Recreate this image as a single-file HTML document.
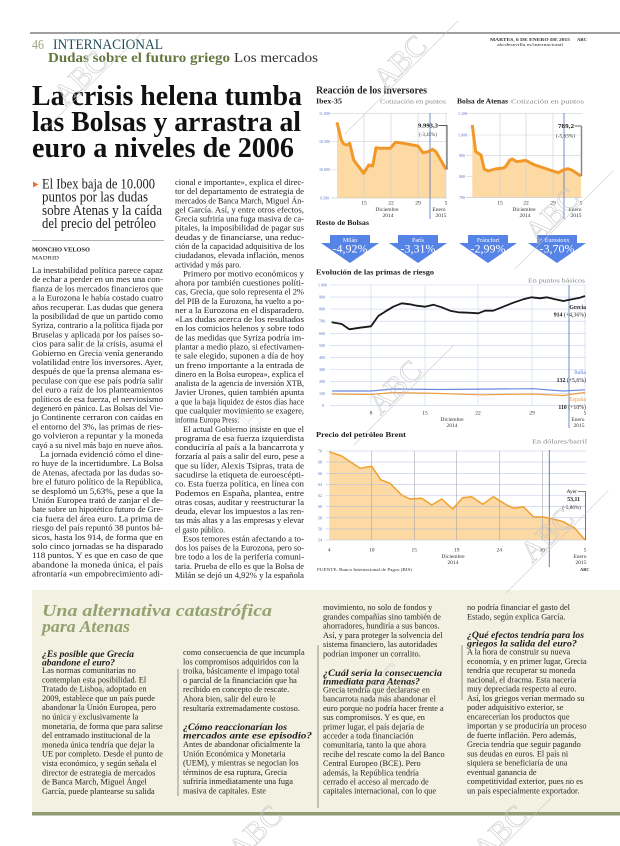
<!DOCTYPE html>
<html><head><meta charset="utf-8"><style>
html,body{margin:0;padding:0;background:#fff;width:620px;height:846px;overflow:hidden}
svg{display:block}
.b{font-size:8.2px;fill:#222}
.x{font-size:8.3px;fill:#262626}
.q{font-size:9.3px;font-weight:bold;font-style:italic;fill:#1e1e1e}
.yl{font-size:4px;fill:#5a74c0}
.xl{font-size:5.5px;fill:#333}
.wm{font-size:30px;fill:none;stroke:#c6c6c6;stroke-width:0.7}
</style></head><body>
<svg width="620" height="846" viewBox="0 0 620 846" font-family="'Liberation Serif', serif" xmlns="http://www.w3.org/2000/svg">
<rect width="620" height="846" fill="#fff"/>

<!-- Header -->
<line x1="30" y1="33" x2="620" y2="33" stroke="#666" stroke-width="1.2"/>
<text x="32" y="49" font-size="14" fill="#9aa77c" textLength="12" lengthAdjust="spacingAndGlyphs">46</text>
<text x="53" y="49" font-size="14.5" fill="#23505e" textLength="110" lengthAdjust="spacingAndGlyphs">INTERNACIONAL</text>
<text x="48" y="62" font-size="14" font-weight="bold" fill="#66773f" textLength="182" lengthAdjust="spacingAndGlyphs">Dudas sobre el futuro griego</text>
<text x="234" y="62" font-size="14" fill="#333" textLength="84" lengthAdjust="spacingAndGlyphs">Los mercados</text>
<text x="490" y="41" font-size="4.6" font-weight="bold" fill="#333" textLength="80" lengthAdjust="spacingAndGlyphs">MARTES, 6 DE ENERO DE 2015</text>
<text x="577" y="41" font-size="4.6" font-weight="bold" fill="#333" textLength="10" lengthAdjust="spacingAndGlyphs">ABC</text>
<text x="497" y="45.8" font-size="4.4" fill="#333" textLength="66" lengthAdjust="spacingAndGlyphs">abcdesevilla.es/internacional</text>

<!-- Headline -->
<text x="32" y="105" font-size="28" font-weight="bold" fill="#111" textLength="270" lengthAdjust="spacingAndGlyphs">La crisis helena tumba</text>
<text x="32" y="131" font-size="28" font-weight="bold" fill="#111" textLength="269" lengthAdjust="spacingAndGlyphs">las Bolsas y arrastra al</text>
<text x="32" y="157" font-size="28" font-weight="bold" fill="#111" textLength="262" lengthAdjust="spacingAndGlyphs">euro a niveles de 2006</text>

<!-- Subhead -->
<polygon points="33,181.5 38.5,184.5 33,187.5" fill="#e8772e"/>
<text x="42" y="188.5" font-size="14.5" fill="#222" textLength="113" lengthAdjust="spacingAndGlyphs">El Ibex baja de 10.000</text>
<text x="42" y="201.7" font-size="14.5" fill="#222" textLength="106" lengthAdjust="spacingAndGlyphs">puntos por las dudas</text>
<text x="42" y="214.9" font-size="14.5" fill="#222" textLength="120" lengthAdjust="spacingAndGlyphs">sobre Atenas y la caída</text>
<text x="42" y="228.1" font-size="14.5" fill="#222" textLength="114" lengthAdjust="spacingAndGlyphs">del precio del petróleo</text>
<line x1="32" y1="240.5" x2="164" y2="240.5" stroke="#999" stroke-width="0.7"/>
<text x="32" y="251.5" font-size="6.2" font-weight="bold" fill="#222" textLength="58" lengthAdjust="spacingAndGlyphs">MONCHO VELOSO</text>
<text x="32" y="259.5" font-size="5.5" fill="#222" textLength="27" lengthAdjust="spacingAndGlyphs">MADRID</text>

<!-- Column 1 -->
<g class="b" lengthAdjust="spacingAndGlyphs">
<text x="32" y="273" textLength="131" lengthAdjust="spacingAndGlyphs">La inestabilidad política parece capaz</text>
<text x="32" y="282.2" textLength="131" lengthAdjust="spacingAndGlyphs">de echar a perder en un mes una con-</text>
<text x="32" y="291.4" textLength="131" lengthAdjust="spacingAndGlyphs">fianza de los mercados financieros que</text>
<text x="32" y="300.6" textLength="131" lengthAdjust="spacingAndGlyphs">a la Eurozona le había costado cuatro</text>
<text x="32" y="309.8" textLength="131" lengthAdjust="spacingAndGlyphs">años recuperar. Las dudas que genera</text>
<text x="32" y="319" textLength="131" lengthAdjust="spacingAndGlyphs">la posibilidad de que un partido como</text>
<text x="32" y="328.2" textLength="131" lengthAdjust="spacingAndGlyphs">Syriza, contrario a la política fijada por</text>
<text x="32" y="337.4" textLength="131" lengthAdjust="spacingAndGlyphs">Bruselas y aplicada por los países so-</text>
<text x="32" y="346.6" textLength="131" lengthAdjust="spacingAndGlyphs">cios para salir de la crisis, asuma el</text>
<text x="32" y="355.8" textLength="131" lengthAdjust="spacingAndGlyphs">Gobierno en Grecia venía generando</text>
<text x="32" y="365" textLength="131" lengthAdjust="spacingAndGlyphs">volatilidad entre los inversores. Ayer,</text>
<text x="32" y="374.2" textLength="131" lengthAdjust="spacingAndGlyphs">después de que la prensa alemana es-</text>
<text x="32" y="383.4" textLength="131" lengthAdjust="spacingAndGlyphs">peculase con que ese país podría salir</text>
<text x="32" y="392.6" textLength="131" lengthAdjust="spacingAndGlyphs">del euro a raíz de los planteamientos</text>
<text x="32" y="401.8" textLength="131" lengthAdjust="spacingAndGlyphs">políticos de esa fuerza, el nerviosismo</text>
<text x="32" y="411" textLength="131" lengthAdjust="spacingAndGlyphs">degeneró en pánico. Las Bolsas del Vie-</text>
<text x="32" y="420.2" textLength="131" lengthAdjust="spacingAndGlyphs">jo Continente cerraron con caídas en</text>
<text x="32" y="429.4" textLength="131" lengthAdjust="spacingAndGlyphs">el entorno del 3%, las primas de ries-</text>
<text x="32" y="438.6" textLength="131" lengthAdjust="spacingAndGlyphs">go volvieron a repuntar y la moneda</text>
<text x="32" y="447.8" textLength="131" lengthAdjust="spacingAndGlyphs">cayó a su nivel más bajo en nueve años.</text>
<text x="40" y="457" textLength="123" lengthAdjust="spacingAndGlyphs">La jornada evidenció cómo el dine-</text>
<text x="32" y="466.2" textLength="131" lengthAdjust="spacingAndGlyphs">ro huye de la incertidumbre. La Bolsa</text>
<text x="32" y="475.4" textLength="131" lengthAdjust="spacingAndGlyphs">de Atenas, afectada por las dudas so-</text>
<text x="32" y="484.6" textLength="131" lengthAdjust="spacingAndGlyphs">bre el futuro político de la República,</text>
<text x="32" y="493.8" textLength="131" lengthAdjust="spacingAndGlyphs">se desplomó un 5,63%, pese a que la</text>
<text x="32" y="503" textLength="131" lengthAdjust="spacingAndGlyphs">Unión Europea trató de zanjar el de-</text>
<text x="32" y="512.2" textLength="131" lengthAdjust="spacingAndGlyphs">bate sobre un hipotético futuro de Gre-</text>
<text x="32" y="521.4" textLength="131" lengthAdjust="spacingAndGlyphs">cia fuera del área euro. La prima de</text>
<text x="32" y="530.6" textLength="131" lengthAdjust="spacingAndGlyphs">riesgo del país repuntó 38 puntos bá-</text>
<text x="32" y="539.8" textLength="131" lengthAdjust="spacingAndGlyphs">sicos, hasta los 914, de forma que en</text>
<text x="32" y="549" textLength="131" lengthAdjust="spacingAndGlyphs">solo cinco jornadas se ha disparado</text>
<text x="32" y="558.2" textLength="131" lengthAdjust="spacingAndGlyphs">118 puntos. Y es que en caso de que</text>
<text x="32" y="567.4" textLength="131" lengthAdjust="spacingAndGlyphs">abandone la moneda única, el país</text>
<text x="32" y="576.6" textLength="131" lengthAdjust="spacingAndGlyphs">afrontaría «un empobrecimiento adi-</text>
</g>

<!-- Column 2 -->
<g class="b">
<text x="175" y="185" textLength="129" lengthAdjust="spacingAndGlyphs">cional e importante», explica el direc-</text>
<text x="175" y="194.1" textLength="129" lengthAdjust="spacingAndGlyphs">tor del departamento de estrategia de</text>
<text x="175" y="203.3" textLength="129" lengthAdjust="spacingAndGlyphs">mercados de Banca March, Miguel Án-</text>
<text x="175" y="212.4" textLength="129" lengthAdjust="spacingAndGlyphs">gel García. Así, y entre otros efectos,</text>
<text x="175" y="221.6" textLength="129" lengthAdjust="spacingAndGlyphs">Grecia sufriría una fuga masiva de ca-</text>
<text x="175" y="230.7" textLength="129" lengthAdjust="spacingAndGlyphs">pitales, la imposibilidad de pagar sus</text>
<text x="175" y="239.8" textLength="129" lengthAdjust="spacingAndGlyphs">deudas y de financiarse, una reduc-</text>
<text x="175" y="249" textLength="129" lengthAdjust="spacingAndGlyphs">ción de la capacidad adquisitiva de los</text>
<text x="175" y="258.1" textLength="129" lengthAdjust="spacingAndGlyphs">ciudadanos, elevada inflación, menos</text>
<text x="175" y="267.3" textLength="66" lengthAdjust="spacingAndGlyphs">actividad y más paro.</text>
<text x="183" y="276.4" textLength="121" lengthAdjust="spacingAndGlyphs">Primero por motivo económicos y</text>
<text x="175" y="285.5" textLength="129" lengthAdjust="spacingAndGlyphs">ahora por también cuestiones políti-</text>
<text x="175" y="294.7" textLength="129" lengthAdjust="spacingAndGlyphs">cas, Grecia, que solo representa el 2%</text>
<text x="175" y="303.8" textLength="129" lengthAdjust="spacingAndGlyphs">del PIB de la Eurozona, ha vuelto a po-</text>
<text x="175" y="313" textLength="129" lengthAdjust="spacingAndGlyphs">ner a la Eurozona en el disparadero.</text>
<text x="175" y="322.1" textLength="129" lengthAdjust="spacingAndGlyphs">«Las dudas acerca de los resultados</text>
<text x="175" y="331.2" textLength="129" lengthAdjust="spacingAndGlyphs">en los comicios helenos y sobre todo</text>
<text x="175" y="340.4" textLength="129" lengthAdjust="spacingAndGlyphs">de las medidas que Syriza podría im-</text>
<text x="175" y="349.5" textLength="129" lengthAdjust="spacingAndGlyphs">plantar a medio plazo, si efectivamen-</text>
<text x="175" y="358.7" textLength="129" lengthAdjust="spacingAndGlyphs">te sale elegido, suponen a día de hoy</text>
<text x="175" y="367.8" textLength="129" lengthAdjust="spacingAndGlyphs">un freno importante a la entrada de</text>
<text x="175" y="376.9" textLength="129" lengthAdjust="spacingAndGlyphs">dinero en la Bolsa europea», explica el</text>
<text x="175" y="386.1" textLength="129" lengthAdjust="spacingAndGlyphs">analista de la agencia de inversión XTB,</text>
<text x="175" y="395.2" textLength="129" lengthAdjust="spacingAndGlyphs">Javier Urones, quien también apunta</text>
<text x="175" y="404.4" textLength="129" lengthAdjust="spacingAndGlyphs">a que la baja liquidez de estos días hace</text>
<text x="175" y="413.5" textLength="129" lengthAdjust="spacingAndGlyphs">que cualquier movimiento se exagere,</text>
<text x="175" y="422.6" textLength="64" lengthAdjust="spacingAndGlyphs">informa Europa Press.</text>
<text x="183" y="431.8" textLength="121" lengthAdjust="spacingAndGlyphs">El actual Gobierno insiste en que el</text>
<text x="175" y="440.9" textLength="129" lengthAdjust="spacingAndGlyphs">programa de esa fuerza izquierdista</text>
<text x="175" y="450.1" textLength="129" lengthAdjust="spacingAndGlyphs">conduciría al país a la bancarrota y</text>
<text x="175" y="459.2" textLength="129" lengthAdjust="spacingAndGlyphs">forzaría al país a salir del euro, pese a</text>
<text x="175" y="468.3" textLength="129" lengthAdjust="spacingAndGlyphs">que su líder, Alexis Tsipras, trata de</text>
<text x="175" y="477.5" textLength="129" lengthAdjust="spacingAndGlyphs">sacudirse la etiqueta de euroescépti-</text>
<text x="175" y="486.6" textLength="129" lengthAdjust="spacingAndGlyphs">co. Esta fuerza política, en línea con</text>
<text x="175" y="495.8" textLength="129" lengthAdjust="spacingAndGlyphs">Podemos en España, plantea, entre</text>
<text x="175" y="504.9" textLength="129" lengthAdjust="spacingAndGlyphs">otras cosas, auditar y reestructurar la</text>
<text x="175" y="514" textLength="129" lengthAdjust="spacingAndGlyphs">deuda, elevar los impuestos a las ren-</text>
<text x="175" y="523.2" textLength="129" lengthAdjust="spacingAndGlyphs">tas más altas y a las empresas y elevar</text>
<text x="175" y="532.3" textLength="50" lengthAdjust="spacingAndGlyphs">el gasto público.</text>
<text x="183" y="541.5" textLength="121" lengthAdjust="spacingAndGlyphs">Esos temores están afectando a to-</text>
<text x="175" y="550.6" textLength="129" lengthAdjust="spacingAndGlyphs">dos los países de la Eurozona, pero so-</text>
<text x="175" y="559.7" textLength="129" lengthAdjust="spacingAndGlyphs">bre todo a los de la periferia comuni-</text>
<text x="175" y="568.9" textLength="129" lengthAdjust="spacingAndGlyphs">taria. Prueba de ello es que la Bolsa de</text>
<text x="175" y="578" textLength="129" lengthAdjust="spacingAndGlyphs">Milán se dejó un 4,92% y la española</text>
</g>

<!-- Reacción de los inversores -->
<text x="316" y="93.5" font-size="10.5" font-weight="bold" fill="#222" textLength="111" lengthAdjust="spacingAndGlyphs">Reacción de los inversores</text>
<text x="316" y="103.5" font-size="7.5" font-weight="bold" fill="#222" textLength="26" lengthAdjust="spacingAndGlyphs">Ibex-35</text>
<text x="380" y="103.5" font-size="6.5" fill="#888" textLength="66" lengthAdjust="spacingAndGlyphs">Cotización en puntos</text>
<text x="457" y="103.5" font-size="7.5" font-weight="bold" fill="#222" textLength="51" lengthAdjust="spacingAndGlyphs">Bolsa de Atenas</text>
<text x="511" y="103.5" font-size="6.5" fill="#888" textLength="73" lengthAdjust="spacingAndGlyphs">Cotización en puntos</text>

<!-- Ibex chart -->
<g stroke="#d2d2d2" stroke-width="0.6">
<line x1="331" y1="113.3" x2="447" y2="113.3"/>
<line x1="331" y1="141.7" x2="447" y2="141.7"/>
<line x1="331" y1="169.5" x2="447" y2="169.5"/>
</g>
<polygon points="337,198 337,122.3 341.3,140 343.7,144 347,145 349.7,143.3 353.7,160 363.7,173.3 368.7,165 372.7,166 376,147.7 380.3,148.3 390.3,148.3 395.3,142.3 400.3,142.7 418,146 423,152.7 427,152 432.7,149.3 436,151.7 446,169.3 446,198" fill="#fdd9a3"/>
<g stroke="#c8cde0" stroke-width="0.6">
<line x1="364" y1="113" x2="364" y2="198"/>
<line x1="391" y1="113" x2="391" y2="198"/>
<line x1="418" y1="113" x2="418" y2="198"/>
<line x1="446" y1="113" x2="446" y2="198"/>
</g>
<line x1="331" y1="198" x2="447" y2="198" stroke="#bbb" stroke-width="0.6"/>
<line x1="430" y1="113" x2="430" y2="219" stroke="#5570c0" stroke-width="0.8"/>
<polyline points="337,122.3 341.3,140 343.7,144 347,145 349.7,143.3 353.7,160 363.7,173.3 368.7,165 372.7,166 376,147.7 380.3,148.3 390.3,148.3 395.3,142.3 400.3,142.7 418,146 423,152.7 427,152 432.7,149.3 436,151.7 446,169.3" fill="none" stroke="#f0992a" stroke-width="3" stroke-linejoin="round"/>
<text class="yl" x="319" y="114.8">11.000</text>
<text class="yl" x="319" y="143.2">10.500</text>
<text class="yl" x="319" y="171">10.000</text>
<text class="yl" x="320" y="199.5">9.500</text>
<g class="xl" text-anchor="middle">
<text x="364" y="204.5">15</text><text x="391" y="204.5">22</text><text x="418" y="204.5">29</text><text x="446" y="204.5">5</text>
<text x="387" y="211">Diciembre</text><text x="388" y="217">2014</text>
<text x="439" y="211">Enero</text><text x="441" y="217">2015</text>
</g>
<text x="418" y="127.5" font-size="6" font-weight="bold" fill="#222" textLength="20" lengthAdjust="spacingAndGlyphs">9.993,3</text>
<polyline points="438.5,125.5 447,125.5 447,169.5" fill="none" stroke="#222" stroke-width="0.8"/>
<text x="419" y="136" font-size="5" fill="#333" textLength="18" lengthAdjust="spacingAndGlyphs">(-3,45%)</text>

<!-- Athens chart -->
<g stroke="#d2d2d2" stroke-width="0.6">
<line x1="466" y1="113.3" x2="582" y2="113.3"/>
<line x1="466" y1="135" x2="582" y2="135"/>
<line x1="466" y1="155.7" x2="582" y2="155.7"/>
<line x1="466" y1="176.7" x2="582" y2="176.7"/>
</g>
<polygon points="472.3,197.3 472.3,125 475.7,151.7 478.3,153.3 481,155 484.3,169.3 488.3,171 495,169 501.7,168.3 505,167.3 510,160 512.3,159 516.7,161.7 521.7,161 525.7,160.3 530,162.7 535,165 555,171.7 558.3,172.7 563.3,170 567.7,168.7 571.7,170 581,176 581,197.3" fill="#fdd9a3"/>
<g stroke="#c8cde0" stroke-width="0.6">
<line x1="500" y1="113" x2="500" y2="197"/>
<line x1="526" y1="113" x2="526" y2="197"/>
<line x1="553" y1="113" x2="553" y2="197"/>
</g>
<line x1="466" y1="197.3" x2="582" y2="197.3" stroke="#bbb" stroke-width="0.6"/>
<line x1="564" y1="113" x2="564" y2="219" stroke="#5570c0" stroke-width="0.8"/>
<polyline points="472.3,125 475.7,151.7 478.3,153.3 481,155 484.3,169.3 488.3,171 495,169 501.7,168.3 505,167.3 510,160 512.3,159 516.7,161.7 521.7,161 525.7,160.3 530,162.7 535,165 555,171.7 558.3,172.7 563.3,170 567.7,168.7 571.7,170 581,176" fill="none" stroke="#f0992a" stroke-width="3" stroke-linejoin="round"/>
<text class="yl" x="458" y="114.8">1.100</text>
<text class="yl" x="458" y="136.5">1.000</text>
<text class="yl" x="459" y="157.2">900</text>
<text class="yl" x="459" y="178.2">800</text>
<text class="yl" x="459" y="198.8">700</text>
<g class="xl" text-anchor="middle">
<text x="500" y="204.5">15</text><text x="526" y="204.5">22</text><text x="553" y="204.5">29</text><text x="581" y="204.5">5</text>
<text x="524" y="211">Diciembre</text><text x="525" y="217">2014</text>
<text x="575" y="211">Enero</text><text x="576" y="217">2015</text>
</g>
<text x="558" y="128" font-size="6" font-weight="bold" fill="#222" textLength="16" lengthAdjust="spacingAndGlyphs">789,2</text>
<line x1="574.5" y1="126" x2="581.5" y2="126" stroke="#444" stroke-width="0.8"/>
<line x1="581.5" y1="126" x2="581.5" y2="176" stroke="#888" stroke-width="1.5"/>
<text x="556" y="137.5" font-size="5" fill="#333" textLength="19" lengthAdjust="spacingAndGlyphs">(-5,63%)</text>

<!-- Resto de Bolsas -->
<text x="316" y="225" font-size="7.5" font-weight="bold" fill="#222" textLength="53" lengthAdjust="spacingAndGlyphs">Resto de Bolsas</text>
<g fill="#5583e6">
<path d="M330,235 H370 V243 H379 L350,263 L321,243 H330 Z"/>
<path d="M398,235 H438 V243 H447 L418,263 L389,243 H398 Z"/>
<path d="M468,235 H508 V243 H517 L488,263 L459,243 H468 Z"/>
<path d="M537,235 H577 V243 H586 L557,263 L528,243 H537 Z"/>
</g>
<g fill="#fff" text-anchor="middle">
<text x="350" y="242" font-size="6">Milán</text>
<text x="350" y="252.5" font-size="11.5" textLength="35" lengthAdjust="spacingAndGlyphs">-4,92%</text>
<text x="418" y="242" font-size="6">París</text>
<text x="418" y="252.5" font-size="11.5" textLength="35" lengthAdjust="spacingAndGlyphs">-3,31%</text>
<text x="488" y="242" font-size="6">Fráncfort</text>
<text x="488" y="252.5" font-size="11.5" textLength="35" lengthAdjust="spacingAndGlyphs">-2,99%</text>
<text x="557" y="242" font-size="6">Eurostoxx</text>
<text x="557" y="252.5" font-size="11.5" textLength="35" lengthAdjust="spacingAndGlyphs">-3,70%</text>
</g>

<!-- Primas de riesgo -->
<text x="316" y="274.5" font-size="7.5" font-weight="bold" fill="#222" textLength="118" lengthAdjust="spacingAndGlyphs">Evolución de las primas de riesgo</text>
<text x="528" y="282.5" font-size="6.5" fill="#888" textLength="57" lengthAdjust="spacingAndGlyphs">En puntos básicos</text>
<g stroke="#c8d2ee" stroke-width="0.6">
<line x1="330" y1="285" x2="586" y2="285"/>
<line x1="330" y1="297.1" x2="586" y2="297.1"/>
<line x1="330" y1="309.1" x2="586" y2="309.1"/>
<line x1="330" y1="321.2" x2="586" y2="321.2"/>
<line x1="330" y1="333.3" x2="586" y2="333.3"/>
<line x1="330" y1="345.4" x2="586" y2="345.4"/>
<line x1="330" y1="357.4" x2="586" y2="357.4"/>
<line x1="330" y1="369.5" x2="586" y2="369.5"/>
<line x1="330" y1="381.6" x2="586" y2="381.6"/>
<line x1="330" y1="393.6" x2="586" y2="393.6"/>
<line x1="330" y1="405.7" x2="586" y2="405.7"/>
<line x1="371" y1="285" x2="371" y2="406"/>
<line x1="425" y1="285" x2="425" y2="406"/>
<line x1="478" y1="285" x2="478" y2="406"/>
<line x1="532" y1="285" x2="532" y2="406"/>
<line x1="585" y1="285" x2="585" y2="406"/>
</g>
<line x1="569" y1="285" x2="569" y2="428" stroke="#5570c0" stroke-width="0.8"/>
<g class="yl">
<text x="318" y="286.5">1.000</text><text x="319" y="298.6">900</text><text x="319" y="310.6">800</text>
<text x="319" y="322.7">700</text><text x="319" y="334.8">600</text><text x="319" y="346.9">500</text>
<text x="319" y="358.9">400</text><text x="319" y="371">300</text><text x="319" y="383.1">200</text>
<text x="319" y="395.1">100</text><text x="322" y="407.2">0</text>
</g>
<polyline points="332,394 371,394.5 393,392.5 440,393.5 480,394.8 533,394 563,395.5 585,392.5" fill="none" stroke="#f0a040" stroke-width="1.2"/>
<polyline points="332,391 371,391 393,389 440,389.5 533,388.7 563,391 585,389.8" fill="none" stroke="#6a8ae0" stroke-width="1.2"/>
<polyline points="331.7,322.3 341.7,324 349.3,329.3 360,327.7 371,326.3 378.3,316 385,311.7 393.3,306.7 401.7,303.3 410,304.3 416.7,305.7 425,306.7 433.3,304.7 441.7,307.3 450,310.7 458.3,312.3 468.3,312.7 478.3,313.3 485,310.7 493.3,310.7 503.3,306.7 513.3,302.7 523.3,299.3 531.7,297.3 540,298.3 546.7,297.3 555,299.3 563.3,301 573.3,299 580,297.7 585,296" fill="none" stroke="#1a1a1a" stroke-width="1.8" stroke-linejoin="round"/>
<g class="xl" text-anchor="middle">
<text x="371" y="414.5">8</text><text x="425" y="414.5">15</text><text x="478" y="414.5">22</text><text x="532" y="414.5">29</text><text x="585" y="414.5">5</text>
<text x="452" y="421">Diciembre</text><text x="452" y="427">2014</text>
<text x="578" y="421">Enero</text><text x="579" y="427">2015</text>
</g>
<g font-size="5.8" text-anchor="end">
<text x="586" y="309" font-weight="bold" fill="#222">Grecia</text>
<text x="586" y="316.5" fill="#222"><tspan font-weight="bold">914</tspan> (+4,36%)</text>
<text x="586" y="374" fill="#6a8ae0">Italia</text>
<text x="586" y="382" fill="#222"><tspan font-weight="bold">132</tspan> (+5,6%)</text>
<text x="586" y="401" fill="#f0a040">España</text>
<text x="586" y="409" fill="#222"><tspan font-weight="bold">110</tspan> (+10%)</text>
</g>

<!-- Brent -->
<text x="316" y="437" font-size="7.5" font-weight="bold" fill="#222" textLength="90" lengthAdjust="spacingAndGlyphs">Precio del petróleo Brent</text>
<text x="532" y="443.5" font-size="6.5" fill="#888" textLength="55" lengthAdjust="spacingAndGlyphs">En dólares/barril</text>
<polygon points="329.3,540 329.3,451.7 341.7,456 351.7,462.7 360,468.3 368.3,466.7 371.7,466.3 381,480 390,483.3 401.7,495 410,499 421.7,498.3 431.7,505 441.7,499 452.7,509 462.7,497.7 471.7,496.7 482.7,504.3 493.3,496.7 506.7,505 514,508.3 523.3,506.7 533.3,516.7 543.3,517 553.3,519 563.3,521.7 575,528.3 585,540" fill="#fdd9a3"/>
<g stroke="#a9b8e6" stroke-width="0.6" opacity="0.8">
<line x1="326" y1="451" x2="586" y2="451"/>
<line x1="326" y1="462.1" x2="586" y2="462.1"/>
<line x1="326" y1="473.3" x2="586" y2="473.3"/>
<line x1="326" y1="484.4" x2="586" y2="484.4"/>
<line x1="326" y1="495.5" x2="586" y2="495.5"/>
<line x1="326" y1="506.6" x2="586" y2="506.6"/>
<line x1="326" y1="517.8" x2="586" y2="517.8"/>
<line x1="326" y1="528.9" x2="586" y2="528.9"/>
<line x1="326" y1="540" x2="586" y2="540"/>
</g>
<g stroke="#aaa" stroke-width="0.6">
<line x1="371.7" y1="451" x2="371.7" y2="540"/>
<line x1="414.3" y1="451" x2="414.3" y2="540"/>
<line x1="456.7" y1="451" x2="456.7" y2="540"/>
<line x1="499.3" y1="451" x2="499.3" y2="540"/>
<line x1="542.3" y1="451" x2="542.3" y2="540"/>
</g>
<line x1="549.3" y1="450" x2="549.3" y2="567" stroke="#5570c0" stroke-width="0.9"/>
<polyline points="329.3,451.7 341.7,456 351.7,462.7 360,468.3 368.3,466.7 371.7,466.3 381,480 390,483.3 401.7,495 410,499 421.7,498.3 431.7,505 441.7,499 452.7,509 462.7,497.7 471.7,496.7 482.7,504.3 493.3,496.7 506.7,505 514,508.3 523.3,506.7 533.3,516.7 543.3,517 553.3,519 563.3,521.7 575,528.3 585,540" fill="none" stroke="#f0a030" stroke-width="1.5" stroke-linejoin="round"/>
<g class="yl">
<text x="318" y="452.5">70</text><text x="318" y="463.6">68</text><text x="318" y="474.8">66</text>
<text x="318" y="485.9">64</text><text x="318" y="497">62</text><text x="318" y="508.1">60</text>
<text x="318" y="519.3">58</text><text x="318" y="530.4">56</text><text x="318" y="541.5">54</text>
</g>
<g class="xl" text-anchor="middle">
<text x="329.3" y="551.5">4</text><text x="371.7" y="551.5">10</text><text x="414.3" y="551.5">15</text><text x="456.7" y="551.5">19</text>
<text x="499.3" y="551.5">24</text><text x="542.3" y="551.5">30</text><text x="585" y="551.5">5</text>
<text x="453" y="558">Diciembre</text><text x="453" y="564">2014</text>
<text x="580" y="558">Enero</text><text x="581" y="564">2015</text>
</g>
<text x="577" y="493" font-size="5.5" fill="#222" text-anchor="end">Ayer</text>
<polyline points="578,491.5 585.5,491.5 585.5,540" fill="none" stroke="#555" stroke-width="0.8"/>
<text x="580" y="501" font-size="5.8" font-weight="bold" fill="#222" text-anchor="end">53,11</text>
<text x="581" y="509" font-size="5.2" fill="#222" text-anchor="end">(-5,86%)</text>
<text x="317" y="571" font-size="4.5" fill="#333" textLength="95" lengthAdjust="spacingAndGlyphs">FUENTE: Banco Internacional de Pagos (BIS)</text>
<text x="580" y="571" font-size="4.5" font-weight="bold" fill="#333">ABC</text>

<!-- Bottom box -->
<rect x="32" y="590" width="588" height="222" fill="#f3f1e1"/>
<rect x="32" y="812" width="588" height="3.5" fill="#8f9c74"/>
<text x="42" y="616" font-size="17" font-weight="bold" font-style="italic" fill="#94a271" textLength="230" lengthAdjust="spacingAndGlyphs">Una alternativa catastrófica</text>
<text x="42" y="632" font-size="17" font-weight="bold" font-style="italic" fill="#94a271" textLength="88" lengthAdjust="spacingAndGlyphs">para Atenas</text>
<g stroke="#555" stroke-width="0.6">
<line x1="178" y1="669" x2="178" y2="796"/>
<line x1="318" y1="645" x2="318" y2="808"/>
<line x1="462" y1="645" x2="462" y2="700"/>
</g>

<!-- Col A -->
<text class="q" x="42" y="657" textLength="92" lengthAdjust="spacingAndGlyphs">¿Es posible que Grecia</text>
<text class="q" x="42" y="665.5" textLength="73" lengthAdjust="spacingAndGlyphs">abandone el euro?</text>
<g class="x">
<text x="42" y="673">Las normas comunitarias no</text>
<text x="42" y="682.3">contemplan esta posibilidad. El</text>
<text x="42" y="691.6">Tratado de Lisboa, adoptado en</text>
<text x="42" y="700.9">2009, establece que un país puede</text>
<text x="42" y="710.2">abandonar la Unión Europea, pero</text>
<text x="42" y="719.5">no única y exclusivamente la</text>
<text x="42" y="728.8">monetaria, de forma que para salirse</text>
<text x="42" y="738.1">del entramado institucional de la</text>
<text x="42" y="747.4">moneda única tendría que dejar la</text>
<text x="42" y="756.7">UE por completo. Desde el punto de</text>
<text x="42" y="766">vista económico, y según señala el</text>
<text x="42" y="775.3">director de estrategia de mercados</text>
<text x="42" y="784.6">de Banca March, Miguel Ángel</text>
<text x="42" y="793.9">García, puede plantearse su salida</text>
</g>

<!-- Col B -->
<g class="x">
<text x="183" y="655">como consecuencia de que incumpla</text>
<text x="183" y="664.3">los compromisos adquiridos con la</text>
<text x="183" y="673.6">troika, básicamente el impago total</text>
<text x="183" y="682.9">o parcial de la financiación que ha</text>
<text x="183" y="692.2">recibido en concepto de rescate.</text>
<text x="183" y="701.5">Ahora bien, salir del euro le</text>
<text x="183" y="710.8">resultaría extremadamente costoso.</text>
</g>
<text class="q" x="183" y="730" textLength="104" lengthAdjust="spacingAndGlyphs">¿Cómo reaccionarían los</text>
<text class="q" x="183" y="738.5" textLength="129" lengthAdjust="spacingAndGlyphs">mercados ante ese episodio?</text>
<g class="x">
<text x="183" y="747">Antes de abandonar oficialmente la</text>
<text x="183" y="756.3">Unión Económica y Monetaria</text>
<text x="183" y="765.6">(UEM), y mientras se negocian los</text>
<text x="183" y="774.9">términos de esa ruptura, Grecia</text>
<text x="183" y="784.2">sufriría inmediatamente una fuga</text>
<text x="183" y="793.5">masiva de capitales. Este</text>
</g>

<!-- Col C -->
<g class="x">
<text x="323" y="610">movimiento, no solo de fondos y</text>
<text x="323" y="619.3">grandes compañías sino también de</text>
<text x="323" y="628.6">ahorradores, hundiría a sus bancos.</text>
<text x="323" y="637.9">Así, y para proteger la solvencia del</text>
<text x="323" y="647.2">sistema financiero, las autoridades</text>
<text x="323" y="656.5">podrían imponer un corralito.</text>
</g>
<text class="q" x="323" y="676" textLength="119" lengthAdjust="spacingAndGlyphs">¿Cuál sería la consecuencia</text>
<text class="q" x="323" y="684.5" textLength="97" lengthAdjust="spacingAndGlyphs">inmediata para Atenas?</text>
<g class="x">
<text x="323" y="692.5">Grecia tendría que declararse en</text>
<text x="323" y="701.7">bancarrota nada más abandonar el</text>
<text x="323" y="710.9">euro porque no podría hacer frente a</text>
<text x="323" y="720.1">sus compromisos. Y es que, en</text>
<text x="323" y="729.3">primer lugar, el país dejaría de</text>
<text x="323" y="738.5">acceder a toda financiación</text>
<text x="323" y="747.7">comunitaria, tanto la que ahora</text>
<text x="323" y="756.9">recibe del rescate como la del Banco</text>
<text x="323" y="766.1">Central Europeo (BCE). Pero</text>
<text x="323" y="775.3">además, la República tendría</text>
<text x="323" y="784.5">cerrado el acceso al mercado de</text>
<text x="323" y="793.7">capitales internacional, con lo que</text>
</g>

<!-- Col D -->
<g class="x">
<text x="467" y="610">no podría financiar el gasto del</text>
<text x="467" y="619.3">Estado, según explica García.</text>
</g>
<text class="q" x="467" y="638" textLength="117" lengthAdjust="spacingAndGlyphs">¿Qué efectos tendría para los</text>
<text class="q" x="467" y="646.5" textLength="110" lengthAdjust="spacingAndGlyphs">griegos la salida del euro?</text>
<g class="x">
<text x="467" y="654.5">A la hora de construir su nueva</text>
<text x="467" y="663.8">economía, y en primer lugar, Grecia</text>
<text x="467" y="673">tendría que recuperar su moneda</text>
<text x="467" y="682.3">nacional, el dracma. Esta nacería</text>
<text x="467" y="691.5">muy depreciada respecto al euro.</text>
<text x="467" y="700.8">Así, los griegos verían mermado su</text>
<text x="467" y="710.1">poder adquisitivo exterior, se</text>
<text x="467" y="719.3">encarecerían los productos que</text>
<text x="467" y="728.6">importan y se produciría un proceso</text>
<text x="467" y="737.8">de fuerte inflación. Pero además,</text>
<text x="467" y="747.1">Grecia tendría que seguir pagando</text>
<text x="467" y="756.4">sus deudas en euros. El país ni</text>
<text x="467" y="765.6">siquiera se beneficiaría de una</text>
<text x="467" y="774.9">eventual ganancia de</text>
<text x="467" y="784.1">competitividad exterior, pues no es</text>
<text x="467" y="793.4">un país especialmente exportador.</text>
</g>

<!-- Watermarks -->
<g opacity="0.85">
<g transform="translate(80,78) rotate(-45)"><text class="wm" x="0" y="10" text-anchor="middle">ABC</text><line x1="-60" y1="12" x2="75" y2="12" stroke="#c4c4c4" stroke-width="0.6"/></g>
<g transform="translate(400,62) rotate(-45)"><text class="wm" x="0" y="10" text-anchor="middle">ABC</text><line x1="-90" y1="12" x2="70" y2="12" stroke="#c4c4c4" stroke-width="0.6"/></g>
<g transform="translate(552,215) rotate(-45)"><text class="wm" x="0" y="10" text-anchor="middle">ABC</text><line x1="-65" y1="12" x2="75" y2="12" stroke="#c4c4c4" stroke-width="0.6"/></g>
<g transform="translate(395,387) rotate(-45)"><text class="wm" x="0" y="10" text-anchor="middle">ABC</text><line x1="-70" y1="12" x2="70" y2="12" stroke="#c4c4c4" stroke-width="0.6"/></g>
<g transform="translate(547,535) rotate(-45)"><text class="wm" x="0" y="10" text-anchor="middle">ABC</text><line x1="-70" y1="12" x2="75" y2="12" stroke="#c4c4c4" stroke-width="0.6"/></g>
<g transform="translate(92,352) rotate(-45)" opacity="0.6"><text class="wm" x="0" y="10" text-anchor="middle">ABC</text></g>
<g transform="translate(250,420) rotate(-45)" opacity="0.6"><text class="wm" x="0" y="10" text-anchor="middle">ABC</text></g>
<g transform="translate(80,700) rotate(-45)" opacity="0.6"><text class="wm" x="0" y="10" text-anchor="middle">ABC</text></g>
<g transform="translate(378,690) rotate(-45)" opacity="0.6"><text class="wm" x="0" y="10" text-anchor="middle">ABC</text></g>
<g transform="translate(255,832) rotate(-45)"><text class="wm" x="0" y="10" text-anchor="middle">ABC</text></g>
<g transform="translate(500,832) rotate(-45)"><text class="wm" x="0" y="10" text-anchor="middle">ABC</text><line x1="-40" y1="12" x2="90" y2="12" stroke="#c4c4c4" stroke-width="0.6"/></g>
</g>
</svg>
</body></html>
